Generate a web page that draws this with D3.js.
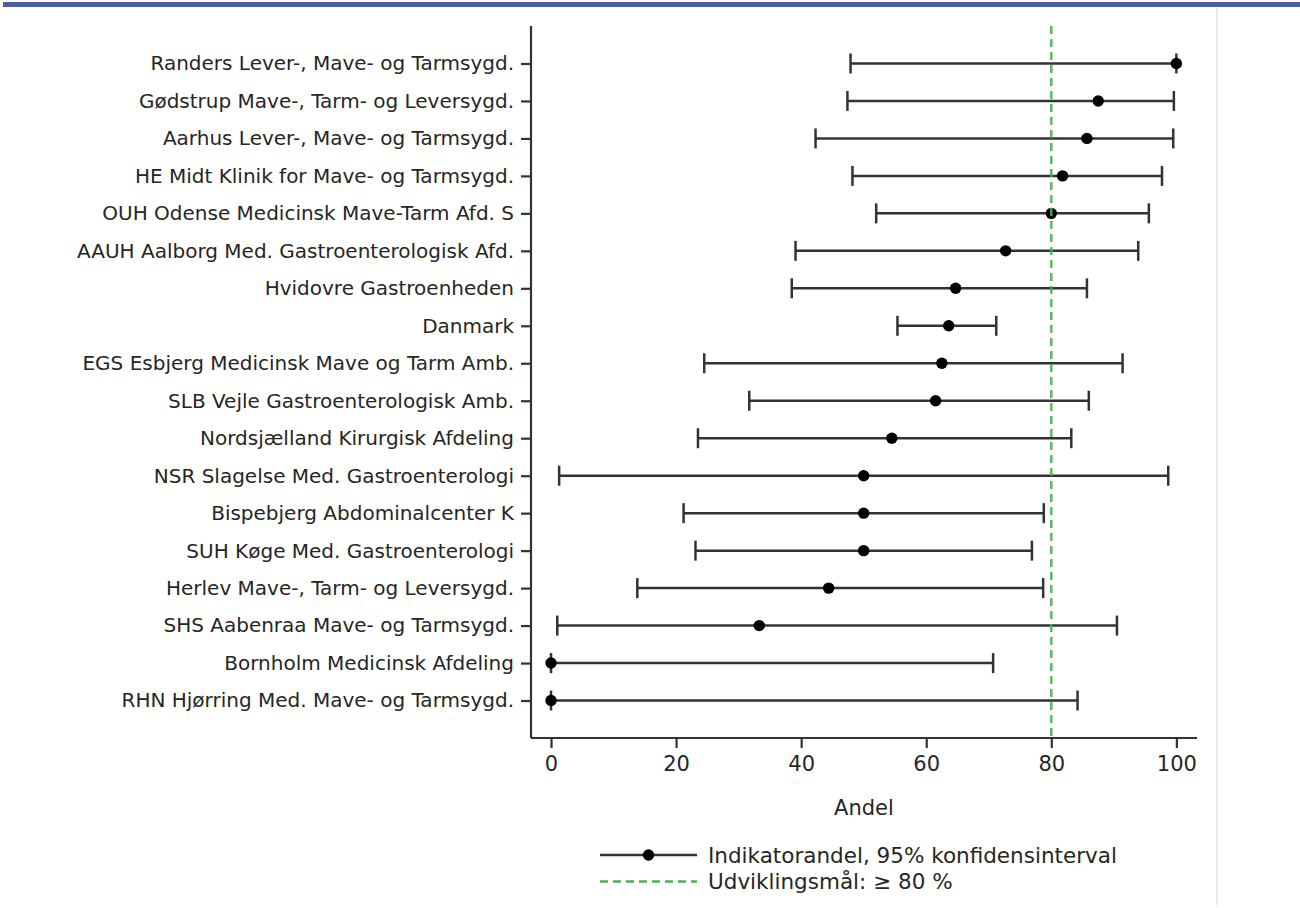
<!DOCTYPE html>
<html>
<head>
<meta charset="utf-8">
<script src="https://cdn.jsdelivr.net/npm/d3@7"></script>
<style>
  body { margin: 0; background: #fff; }
  svg { display: block; font-family: "DejaVu Sans", sans-serif; }
</style>
</head>
<body>
<div id="plot"></div>
<script>
// Afdelinger, fra top til bund
const hospitals = [
    "Randers Lever-, Mave- og Tarmsygd.",
    "Gødstrup Mave-, Tarm- og Leversygd.",
    "Aarhus Lever-, Mave- og Tarmsygd.",
    "HE Midt Klinik for Mave- og Tarmsygd.",
    "OUH Odense Medicinsk Mave-Tarm Afd. S",
    "AAUH Aalborg Med. Gastroenterologisk Afd.",
    "Hvidovre Gastroenheden",
    "Danmark",
    "EGS Esbjerg Medicinsk Mave og Tarm Amb.",
    "SLB Vejle Gastroenterologisk Amb.",
    "Nordsjælland Kirurgisk Afdeling",
    "NSR Slagelse Med. Gastroenterologi",
    "Bispebjerg Abdominalcenter K",
    "SUH Køge Med. Gastroenterologi",
    "Herlev Mave-, Tarm- og Leversygd.",
    "SHS Aabenraa Mave- og Tarmsygd.",
    "Bornholm Medicinsk Afdeling",
    "RHN Hjørring Med. Mave- og Tarmsygd."
];

// Indikatorandel og 95% konfidensinterval (procent)
const andel = [100, 87.5, 85.7, 81.8, 80.0, 72.7, 64.7, 63.6, 62.5, 61.5, 54.5, 50, 50, 50, 44.4, 33.3, 0, 0];
const lower = [47.9, 47.4, 42.3, 48.2, 52.0, 39.1, 38.5, 55.4, 24.5, 31.7, 23.5, 1.3, 21.2, 23.1, 13.8, 1.0, 0, 0];
const upper = [100, 99.6, 99.5, 97.7, 95.6, 93.9, 85.7, 71.2, 91.4, 86.0, 83.2, 98.7, 78.8, 76.9, 78.7, 90.5, 70.7, 84.2];

const xTicks = [0, 20, 40, 60, 80, 100];
const target = 80;

const legendLabels = ["Indikatorandel, 95% konfidensinterval", "Udviklingsmål: \u2265 80 %"];

const W = 1300, H = 908;
const plot = {left: 531, right: 1197, top: 26, bottom: 738};
const ink = "#333333";
const green = "#4caf50";

const svg = d3.select("#plot")
    .append("svg")
    .attr("width", W)
    .attr("height", H);

// blue band at the top and grey divider on the right
svg.append("rect")
    .attr("x", 3).attr("y", 2)
    .attr("width", W - 3).attr("height", 5)
    .attr("fill", "#4a5da6");

svg.append("line")
    .attr("x1", 1217).attr("x2", 1217)
    .attr("y1", 8).attr("y2", 905)
    .attr("stroke", "#e3e3e3")
    .attr("stroke-width", 1.5);

// Scales
const x = d3.scaleLinear()
    .domain([-3.2, 103.3])
    .range([plot.left, plot.right]);

const y = d3.scalePoint()
    .domain(hospitals)
    .range([plot.top, plot.bottom])
    .padding(1);

const rows = hospitals.map((h, i) => ({name: h, p: andel[i], lo: lower[i], hi: upper[i]}));

// Axes
const xAxis = svg.append("g")
    .attr("transform", `translate(0,${plot.bottom})`)
    .call(d3.axisBottom(x).tickValues(xTicks).tickSize(10).tickPadding(8).tickSizeOuter(0));

const yAxis = svg.append("g")
    .attr("transform", `translate(${plot.left},0)`)
    .call(d3.axisLeft(y).tickSize(10).tickPadding(7).tickSizeOuter(0));

xAxis.select(".domain").attr("d", `M${plot.left},0H${plot.right}`);
yAxis.select(".domain").attr("d", `M0,${plot.top}V${plot.bottom}`);

[xAxis, yAxis].forEach(a => {
    a.select(".domain").attr("stroke", ink).attr("stroke-width", 2.2);
    a.selectAll(".tick line").attr("stroke", ink).attr("stroke-width", 2.2);
    a.selectAll(".tick text").attr("fill", "#262626").style("font-family", "DejaVu Sans");
});
xAxis.selectAll(".tick text").style("font-size", "21px");
yAxis.selectAll(".tick text").style("font-size", "20px");

svg.append("text")
    .attr("x", (x(-3.2) + x(103.3)) / 2)
    .attr("y", 815)
    .attr("text-anchor", "middle")
    .attr("fill", "#262626")
    .style("font-size", "21px")
    .text("Andel");

// Error bars
const bars = svg.append("g").selectAll("g")
    .data(rows)
    .join("g")
    .attr("transform", d => `translate(0,${y(d.name)})`);

bars.append("line")
    .attr("x1", d => x(d.lo)).attr("x2", d => x(d.hi))
    .attr("stroke", ink).attr("stroke-width", 2.5);

bars.selectAll(".cap")
    .data(d => [d.lo, d.hi])
    .join("line")
    .attr("class", "cap")
    .attr("x1", v => x(v)).attr("x2", v => x(v))
    .attr("y1", -10).attr("y2", 10)
    .attr("stroke", ink).attr("stroke-width", 2.5);

bars.append("circle")
    .attr("cx", d => x(d.p))
    .attr("r", 5.7)
    .attr("fill", "#000");

// Target line on top
svg.append("line")
    .attr("x1", x(target)).attr("x2", x(target))
    .attr("y1", plot.top).attr("y2", plot.bottom)
    .attr("stroke", green)
    .attr("stroke-width", 2.5)
    .attr("stroke-dasharray", "8,5")
    .attr("opacity", 0.9);

// Legend
const legend = svg.append("g");
const ly = [855, 881.5];

legend.append("line")
    .attr("x1", 600).attr("x2", 697)
    .attr("y1", ly[0]).attr("y2", ly[0])
    .attr("stroke", ink).attr("stroke-width", 2.5);
legend.append("circle")
    .attr("cx", 648.5).attr("cy", ly[0]).attr("r", 5.7).attr("fill", "#000");

legend.append("line")
    .attr("x1", 600).attr("x2", 697)
    .attr("y1", ly[1]).attr("y2", ly[1])
    .attr("stroke", green).attr("stroke-width", 2.5)
    .attr("stroke-dasharray", "8,5");

legend.selectAll("text")
    .data(legendLabels)
    .join("text")
    .attr("x", 708)
    .attr("y", (d, i) => ly[i])
    .attr("dy", "0.35em")
    .attr("fill", "#262626")
    .style("font-size", "21.5px")
    .text(d => d);
</script>
</body>
</html>
